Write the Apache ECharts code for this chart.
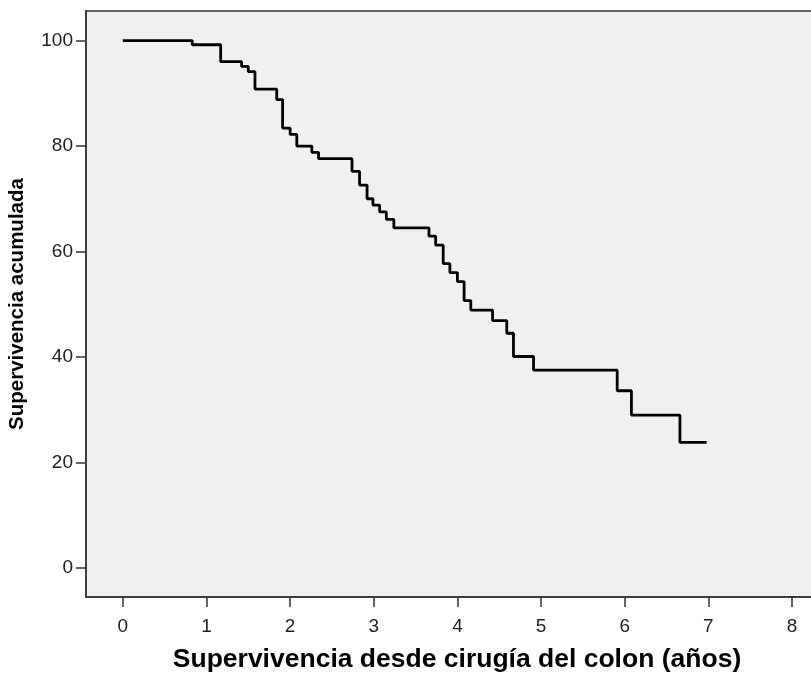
<!DOCTYPE html>
<html>
<head>
<meta charset="utf-8">
<script src="https://cdn.jsdelivr.net/npm/echarts@6/dist/echarts.min.js"></script>
<style>
html,body{margin:0;padding:0;background:#fff;}
#chart{width:811px;height:675px;}
</style>
</head>
<body>
<div id="chart"></div>
<script>
// Kaplan-Meier step function: time (years) of each step and survival (%) after it
const times = [0, 0.83, 1.17, 1.42, 1.50, 1.58, 1.84, 1.91, 2.00, 2.08, 2.26, 2.34, 2.74, 2.83, 2.92, 2.99, 3.07, 3.15, 3.24, 3.66, 3.74, 3.83, 3.91, 4.00, 4.08, 4.16, 4.42, 4.59, 4.67, 4.91, 5.91, 6.08, 6.66, 6.98];
const survival = [100, 99.2, 96.0, 95.1, 94.1, 90.8, 88.8, 83.4, 82.2, 80.0, 78.8, 77.6, 75.2, 72.6, 70.0, 68.8, 67.5, 66.1, 64.5, 62.9, 61.2, 57.7, 56.0, 54.3, 50.7, 48.9, 46.9, 44.5, 40.1, 37.5, 33.6, 29.0, 23.8, 23.8];
const xTicks = [0, 1, 2, 3, 4, 5, 6, 7, 8];
const yTicks = [0, 20, 40, 60, 80, 100];
const xTitle = 'Supervivencia desde cirugía del colon (años)';
const yTitle = 'Supervivencia acumulada';

const data = times.map((t, i) => [t, survival[i]]);
const chart = echarts.init(document.getElementById('chart'), null, {renderer: 'canvas'});
const labelStyle = {color: '#222', fontFamily: 'Liberation Sans', fontSize: 19};
const axisLine = {show: true, onZero: false, lineStyle: {color: '#333', width: 1.5}};
chart.setOption({
  animation: false,
  backgroundColor: '#ffffff',
  grid: {
    left: 86, top: 11, width: 742, height: 586,
    show: true, backgroundColor: '#f0f0f0', borderColor: '#333', borderWidth: 1.5,
    containLabel: false, outerBoundsMode: 'none'
  },
  xAxis: {
    type: 'value', min: -0.44, max: 8.43,
    name: xTitle, nameLocation: 'middle', nameGap: 49,
    nameTextStyle: {fontFamily: 'Liberation Sans', fontWeight: 'bold', fontSize: 26.5, color: '#000'},
    axisLine: axisLine,
    splitLine: {show: false},
    axisTick: {show: true, customValues: xTicks, length: 10, lineStyle: {color: '#333', width: 1.5}},
    axisLabel: Object.assign({customValues: xTicks, margin: 20}, labelStyle)
  },
  yAxis: {
    type: 'value', min: -5.5, max: 105.6,
    name: yTitle, nameLocation: 'middle', nameGap: 58, nameRotate: 90,
    nameTextStyle: {fontFamily: 'Liberation Sans', fontWeight: 'bold', fontSize: 20.5, color: '#000'},
    axisLine: axisLine,
    splitLine: {show: false},
    axisTick: {show: true, customValues: yTicks, length: 10, lineStyle: {color: '#333', width: 1.5}},
    axisLabel: Object.assign({customValues: yTicks, margin: 13}, labelStyle)
  },
  series: [{
    type: 'line', step: 'end', data: data, symbol: 'none',
    lineStyle: {color: '#000', width: 2.8}
  }]
});
</script>
</body>
</html>
